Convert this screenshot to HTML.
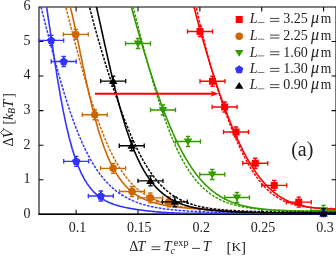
<!DOCTYPE html><html><head><meta charset="utf-8"><title>plot</title><style>html,body{margin:0;padding:0;background:#fff}svg{display:block;will-change:transform}text{font-family:"Liberation Serif",serif;fill:#222}</style></head><body>
<svg width="336" height="256" viewBox="0 0 336 256">
<defs><clipPath id="c"><rect x="38.5" y="7.0" width="298.0" height="207.85"/></clipPath></defs>
<path d="M39.0,7.0H336.0V214.25H39.0ZM76.1,214.25v-4.4M76.1,7.0v4.4M138.0,214.25v-4.4M138.0,7.0v4.4M199.9,214.25v-4.4M199.9,7.0v4.4M261.75,214.25v-4.4M261.75,7.0v4.4M323.6,214.25v-4.4M323.6,7.0v4.4M39.0,179.71h4.4M336.0,179.71h-4.4M39.0,145.17h4.4M336.0,145.17h-4.4M39.0,110.62h4.4M336.0,110.62h-4.4M39.0,76.08h4.4M336.0,76.08h-4.4M39.0,41.54h4.4M336.0,41.54h-4.4" stroke="#000000" stroke-width="1.05" fill="none"/>
<path d="M38.5,214.3H336.0" stroke="#000000" stroke-width="1.4" fill="none"/>
<g clip-path="url(#c)">
<path d="M187.50,31.50H212.50M187.50,29.30V33.70M212.50,29.30V33.70M200.00,26.50V36.50M197.80,26.50H202.20M197.80,36.50H202.20" stroke="#ff0000" stroke-width="1.3" fill="none"/>
<path d="M200.00,81.25H225.00M200.00,79.05V83.45M225.00,79.05V83.45M212.50,76.25V86.25M210.30,76.25H214.70M210.30,86.25H214.70" stroke="#ff0000" stroke-width="1.3" fill="none"/>
<path d="M212.10,107.00H237.10M212.10,104.80V109.20M237.10,104.80V109.20M224.60,102.00V112.00M222.40,102.00H226.80M222.40,112.00H226.80" stroke="#ff0000" stroke-width="1.3" fill="none"/>
<path d="M223.50,132.00H248.50M223.50,129.80V134.20M248.50,129.80V134.20M236.00,127.00V137.00M233.80,127.00H238.20M233.80,137.00H238.20" stroke="#ff0000" stroke-width="1.3" fill="none"/>
<path d="M242.75,163.25H267.75M242.75,161.05V165.45M267.75,161.05V165.45M255.25,158.25V168.25M253.05,158.25H257.45M253.05,168.25H257.45" stroke="#ff0000" stroke-width="1.3" fill="none"/>
<path d="M261.70,185.40H286.70M261.70,183.20V187.60M286.70,183.20V187.60M274.20,180.40V190.40M272.00,180.40H276.40M272.00,190.40H276.40" stroke="#ff0000" stroke-width="1.3" fill="none"/>
<path d="M286.25,202.20H311.25M286.25,200.00V204.40M311.25,200.00V204.40M298.75,197.20V207.20M296.55,197.20H300.95M296.55,207.20H300.95" stroke="#ff0000" stroke-width="1.3" fill="none"/>
</g>
<rect x="196.50" y="28.00" width="7" height="7" fill="#ff0000"/>
<rect x="209.00" y="77.75" width="7" height="7" fill="#ff0000"/>
<rect x="221.10" y="103.50" width="7" height="7" fill="#ff0000"/>
<rect x="232.50" y="128.50" width="7" height="7" fill="#ff0000"/>
<rect x="251.75" y="159.75" width="7" height="7" fill="#ff0000"/>
<rect x="270.70" y="181.90" width="7" height="7" fill="#ff0000"/>
<rect x="295.25" y="198.70" width="7" height="7" fill="#ff0000"/>
<g clip-path="url(#c)">
<path d="M190.4,-6.6 L194.4,8.7 L195.2,11.5 L195.9,14.4 L196.7,17.2 L197.4,20.0 L198.2,22.8 L198.9,25.5 L199.7,28.3 L200.4,31.0 L201.2,33.7 L201.9,36.3 L202.7,39.0 L203.4,41.6 L204.2,44.2 L204.9,46.8 L205.7,49.4 L206.4,52.0 L207.2,54.5 L207.9,57.0 L208.7,59.5 L209.4,62.0 L210.2,64.4 L210.9,66.9 L211.7,69.3 L212.4,71.7 L213.2,74.0 L213.9,76.4 L214.7,78.7 L215.4,81.0 L216.2,83.3 L216.9,85.6 L217.7,87.8 L218.4,90.0 L219.2,92.3 L219.9,94.4 L220.7,96.6 L221.4,98.7 L222.2,100.8 L222.9,102.9 L223.7,105.0 L224.4,107.1 L225.2,109.1 L225.9,111.1 L226.7,113.1 L227.4,115.1 L228.2,117.0 L228.9,118.9 L229.7,120.8 L230.4,122.7 L231.2,124.5 L231.9,126.3 L232.7,128.1 L233.4,129.9 L234.2,131.7 L234.9,133.4 L235.7,135.1 L236.4,136.8 L237.2,138.5 L237.9,140.1 L238.7,141.7 L239.4,143.3 L240.2,144.9 L240.9,146.4 L241.7,147.9 L242.4,149.4 L243.2,150.9 L243.9,152.4 L244.7,153.8 L245.4,155.2 L246.2,156.6 L246.9,157.9 L247.7,159.3 L248.4,160.6 L249.2,161.9 L249.9,163.1 L250.7,164.4 L251.4,165.6 L252.2,166.8 L252.9,167.9 L253.7,169.1 L254.4,170.2 L255.2,171.3 L255.9,172.4 L256.6,173.5 L257.4,174.5 L258.1,175.5 L258.9,176.5 L259.6,177.5 L260.4,178.4 L261.1,179.4 L261.9,180.3 L262.6,181.2 L263.4,182.1 L264.1,182.9 L264.9,183.7 L265.6,184.5 L266.4,185.3 L267.1,186.1 L267.9,186.9 L268.6,187.6 L269.4,188.3 L270.1,189.0 L270.9,189.7 L271.6,190.4 L272.4,191.0 L273.1,191.6 L273.9,192.3 L274.6,192.8 L275.4,193.4 L276.1,194.0 L276.9,194.5 L277.6,195.1 L278.4,195.6 L279.1,196.1 L279.9,196.6 L280.6,197.1 L281.4,197.5 L282.1,198.0 L282.9,198.4 L283.6,198.8 L284.4,199.2 L285.1,199.6 L285.9,200.0 L286.6,200.4 L287.4,200.7 L288.1,201.1 L288.9,201.4 L289.6,201.7 L290.4,202.0 L291.1,202.3 L291.9,202.6 L292.6,202.9 L293.4,203.2 L294.1,203.4 L294.9,203.7 L295.6,203.9 L296.4,204.2 L297.1,204.4 L297.9,204.6 L298.6,204.8 L299.4,205.0 L300.1,205.2 L300.9,205.4 L301.6,205.6 L302.4,205.8 L303.1,205.9 L303.9,206.1 L304.6,206.3 L305.4,206.4 L306.1,206.6 L306.9,206.7 L307.6,206.8 L308.4,207.0 L309.1,207.1 L309.9,207.2 L310.6,207.3 L311.4,207.4 L312.1,207.5 L312.9,207.6 L313.6,207.7 L314.4,207.8 L315.1,207.9 L315.9,208.0 L316.6,208.0 L317.4,208.1 L318.1,208.2 L318.9,208.3 L319.6,208.3 L320.4,208.4 L321.1,208.4 L321.9,208.5 L322.6,208.6 L323.4,208.6 L324.1,208.7 L324.9,208.7 L325.6,208.7 L326.4,208.8 L327.1,208.8 L327.9,208.9 L328.6,208.9 L329.4,208.9 L330.1,209.0 L330.9,209.0 L331.6,209.0 L332.4,209.1 L333.1,209.1 L333.9,209.1 L334.4,209.1 L336.9,209.2" stroke="#ff0000" stroke-width="1.6" fill="none"/>
<path d="M193.0,-7.5 L197.0,10.8 L197.8,14.2 L198.5,17.6 L199.2,20.9 L200.0,24.1 L200.8,27.4 L201.5,30.5 L202.2,33.6 L203.0,36.7 L203.8,39.7 L204.5,42.7 L205.2,45.7 L206.0,48.6 L206.8,51.4 L207.5,54.3 L208.2,57.0 L209.0,59.8 L209.8,62.5 L210.5,65.2 L211.2,67.8 L212.0,70.4 L212.8,73.0 L213.5,75.5 L214.2,78.1 L215.0,80.5 L215.8,83.0 L216.5,85.4 L217.2,87.8 L218.0,90.2 L218.8,92.5 L219.5,94.8 L220.2,97.1 L221.0,99.4 L221.8,101.6 L222.5,103.8 L223.2,106.0 L224.0,108.1 L224.8,110.2 L225.5,112.3 L226.2,114.4 L227.0,116.4 L227.8,118.5 L228.5,120.5 L229.2,122.4 L230.0,124.4 L230.8,126.3 L231.5,128.2 L232.2,130.1 L233.0,131.9 L233.8,133.7 L234.5,135.5 L235.2,137.3 L236.0,139.0 L236.8,140.7 L237.5,142.4 L238.2,144.1 L239.0,145.7 L239.8,147.4 L240.5,149.0 L241.2,150.5 L242.0,152.1 L242.8,153.6 L243.5,155.1 L244.2,156.5 L245.0,158.0 L245.8,159.4 L246.5,160.8 L247.2,162.1 L248.0,163.5 L248.8,164.8 L249.5,166.1 L250.2,167.4 L251.0,168.6 L251.8,169.8 L252.5,171.0 L253.2,172.2 L254.0,173.3 L254.8,174.4 L255.5,175.5 L256.2,176.6 L257.0,177.6 L257.8,178.6 L258.5,179.6 L259.2,180.6 L260.0,181.5 L260.8,182.4 L261.5,183.3 L262.2,184.2 L263.0,185.1 L263.8,185.9 L264.5,186.7 L265.2,187.5 L266.0,188.3 L266.8,189.0 L267.5,189.7 L268.2,190.4 L269.0,191.1 L269.8,191.8 L270.5,192.4 L271.2,193.1 L272.0,193.7 L272.8,194.2 L273.5,194.8 L274.2,195.4 L275.0,195.9 L275.8,196.4 L276.5,196.9 L277.2,197.4 L278.0,197.9 L278.8,198.3 L279.5,198.7 L280.2,199.2 L281.0,199.6 L281.8,200.0 L282.5,200.3 L283.2,200.7 L284.0,201.0 L284.8,201.4 L285.5,201.7 L286.2,202.0 L287.0,202.3 L287.8,202.6 L288.5,202.9 L289.2,203.1 L290.0,203.4 L290.8,203.7 L291.5,203.9 L292.2,204.1 L293.0,204.3 L293.8,204.5 L294.5,204.7 L295.2,204.9 L296.0,205.1 L296.8,205.3 L297.5,205.5 L298.2,205.6 L299.0,205.8 L299.8,205.9 L300.5,206.1 L301.2,206.2 L302.0,206.3 L302.8,206.5 L303.5,206.6 L304.2,206.7 L305.0,206.8 L305.8,206.9 L306.5,207.0 L307.2,207.1 L308.0,207.2 L308.8,207.3 L309.5,207.4 L310.2,207.4 L311.0,207.5 L311.8,207.6 L312.5,207.7 L313.2,207.7 L314.0,207.8 L314.8,207.8 L315.5,207.9 L316.2,208.0 L317.0,208.0 L317.8,208.1 L318.5,208.1 L319.2,208.2 L320.0,208.2 L320.8,208.2 L321.5,208.3 L322.2,208.3 L323.0,208.3 L323.8,208.4 L324.5,208.4 L325.2,208.4 L326.0,208.5 L326.8,208.5 L327.5,208.5 L328.2,208.5 L329.0,208.6 L329.8,208.6 L330.5,208.6 L331.2,208.6 L332.0,208.6 L332.8,208.7 L333.5,208.7 L334.2,208.7 L335.0,208.7 L335.8,208.7 L336.5,208.7 L337.0,208.7" stroke="#ff0000" stroke-width="1.5" fill="none" stroke-dasharray="2.7 1.3"/>
</g>
<g clip-path="url(#c)">
<path d="M63.30,34.40H88.30M63.30,32.20V36.60M88.30,32.20V36.60M75.80,29.40V39.40M73.60,29.40H78.00M73.60,39.40H78.00" stroke="#cc6600" stroke-width="1.3" fill="none"/>
<path d="M82.25,114.75H107.25M82.25,112.55V116.95M107.25,112.55V116.95M94.75,109.75V119.75M92.55,109.75H96.95M92.55,119.75H96.95" stroke="#cc6600" stroke-width="1.3" fill="none"/>
<path d="M100.60,168.30H125.60M100.60,166.10V170.50M125.60,166.10V170.50M113.10,163.30V173.30M110.90,163.30H115.30M110.90,173.30H115.30" stroke="#cc6600" stroke-width="1.3" fill="none"/>
<path d="M119.50,191.50H144.50M119.50,189.30V193.70M144.50,189.30V193.70M132.00,186.50V196.50M129.80,186.50H134.20M129.80,196.50H134.20" stroke="#cc6600" stroke-width="1.3" fill="none"/>
<path d="M137.80,197.80H162.80M137.80,195.60V200.00M162.80,195.60V200.00M150.30,192.80V202.80M148.10,192.80H152.50M148.10,202.80H152.50" stroke="#cc6600" stroke-width="1.3" fill="none"/>
<path d="M156.30,201.80H181.30M156.30,199.60V204.00M181.30,199.60V204.00M168.80,196.80V206.80M166.60,196.80H171.00M166.60,206.80H171.00" stroke="#cc6600" stroke-width="1.3" fill="none"/>
</g>
<circle cx="75.80" cy="34.40" r="3.75" fill="#cc6600"/>
<circle cx="94.75" cy="114.75" r="3.75" fill="#cc6600"/>
<circle cx="113.10" cy="168.30" r="3.75" fill="#cc6600"/>
<circle cx="132.00" cy="191.50" r="3.75" fill="#cc6600"/>
<circle cx="150.30" cy="197.80" r="3.75" fill="#cc6600"/>
<circle cx="168.80" cy="201.80" r="3.75" fill="#cc6600"/>
<g clip-path="url(#c)">
<path d="M66.5,-9.3 L70.5,7.4 L71.2,10.6 L72.0,13.8 L72.8,17.1 L73.5,20.5 L74.2,23.9 L75.0,27.4 L75.8,30.9 L76.5,34.5 L77.2,38.1 L78.0,41.7 L78.8,45.4 L79.5,49.0 L80.2,52.7 L81.0,56.3 L81.8,60.0 L82.5,63.6 L83.2,67.2 L84.0,70.7 L84.8,74.3 L85.5,77.8 L86.2,81.3 L87.0,84.7 L87.8,88.1 L88.5,91.4 L89.2,94.7 L90.0,97.9 L90.8,101.1 L91.5,104.2 L92.2,107.2 L93.0,110.2 L93.8,113.2 L94.5,116.0 L95.2,118.9 L96.0,121.6 L96.8,124.3 L97.5,126.9 L98.2,129.5 L99.0,132.0 L99.8,134.4 L100.5,136.8 L101.2,139.1 L102.0,141.3 L102.8,143.5 L103.5,145.6 L104.2,147.7 L105.0,149.7 L105.8,151.6 L106.5,153.5 L107.2,155.4 L108.0,157.1 L108.8,158.9 L109.5,160.5 L110.2,162.1 L111.0,163.7 L111.8,165.2 L112.5,166.7 L113.2,168.1 L114.0,169.5 L114.8,170.8 L115.5,172.1 L116.2,173.4 L117.0,174.6 L117.8,175.7 L118.5,176.9 L119.2,178.0 L120.0,179.0 L120.8,180.0 L121.5,181.0 L122.2,182.0 L123.0,182.9 L123.8,183.8 L124.5,184.6 L125.2,185.5 L126.0,186.3 L126.8,187.0 L127.5,187.8 L128.2,188.5 L129.0,189.2 L129.8,189.9 L130.5,190.5 L131.2,191.1 L132.0,191.7 L132.8,192.3 L133.5,192.9 L134.2,193.4 L135.0,194.0 L135.8,194.5 L136.5,195.0 L137.2,195.4 L138.0,195.9 L138.8,196.3 L139.5,196.8 L140.2,197.2 L141.0,197.6 L141.8,197.9 L142.5,198.3 L143.2,198.7 L144.0,199.0 L144.8,199.4 L145.5,199.7 L146.2,200.0 L147.0,200.3 L147.8,200.6 L148.5,200.9 L149.2,201.1 L150.0,201.4 L150.8,201.7 L151.5,201.9 L152.2,202.2 L153.0,202.4 L153.8,202.6 L154.5,202.8 L155.2,203.0 L156.0,203.2 L156.8,203.4 L157.5,203.6 L158.2,203.8 L159.0,204.0 L159.8,204.2 L160.5,204.3 L161.2,204.5 L162.0,204.6 L162.8,204.8 L163.5,204.9 L164.2,205.1 L165.0,205.2 L165.8,205.4 L166.5,205.5 L167.2,205.6 L168.0,205.7 L168.8,205.9 L169.5,206.0 L170.2,206.1 L171.0,206.2 L171.8,206.3 L172.5,206.4 L173.2,206.5 L174.0,206.6 L174.8,206.7 L175.5,206.8 L176.2,206.9 L177.0,207.0 L177.8,207.1 L178.5,207.2 L179.2,207.3 L180.0,207.3 L180.8,207.4 L181.5,207.5 L182.2,207.6 L183.0,207.7 L183.8,207.7 L184.5,207.8 L185.2,207.9 L186.0,207.9 L186.8,208.0 L187.5,208.1 L188.2,208.2 L189.0,208.2 L189.8,208.3 L190.5,208.4 L191.2,208.4 L192.0,208.5 L192.8,208.5 L193.5,208.6 L194.2,208.7 L195.0,208.7 L195.8,208.8 L196.5,208.8 L197.2,208.9 L198.0,209.0 L198.8,209.0 L199.5,209.1 L200.2,209.1 L201.0,209.2 L201.8,209.3 L202.5,209.3 L203.2,209.4 L204.0,209.4 L204.8,209.5 L205.5,209.6 L206.2,209.6 L207.0,209.7 L207.8,209.7 L208.5,209.8 L209.2,209.8 L210.0,209.9 L210.5,209.9 L213.0,210.1 L215.5,210.3 L218.0,210.5 L220.5,210.7 L223.0,210.9 L225.5,211.1 L228.0,211.3 L230.5,211.5 L233.0,211.7 L235.5,211.9 L238.0,212.1 L240.5,212.2 L243.0,212.4 L245.5,212.5 L248.0,212.7 L250.5,212.8 L253.0,212.9 L255.5,213.0 L258.0,213.1 L260.5,213.1 L263.0,213.2 L265.5,213.2 L268.0,213.2 L270.5,213.3 L273.0,213.3 L275.5,213.3 L278.0,213.3 L280.5,213.3 L283.0,213.3 L285.5,213.3 L288.0,213.3 L290.5,213.3 L293.0,213.3 L295.5,213.3 L298.0,213.3 L300.5,213.3 L303.0,213.3 L305.5,213.3 L308.0,213.3 L310.5,213.3 L313.0,213.3 L315.5,213.3 L318.0,213.3 L320.5,213.3 L323.0,213.3 L325.5,213.3 L328.0,213.3 L330.5,213.3 L333.0,213.3 L335.5,213.3" stroke="#cc6600" stroke-width="1.6" fill="none"/>
<path d="M62.0,-7.8 L66.0,7.8 L66.8,10.8 L67.5,13.7 L68.2,16.6 L69.0,19.6 L69.8,22.5 L70.5,25.4 L71.2,28.3 L72.0,31.1 L72.8,34.0 L73.5,36.9 L74.2,39.7 L75.0,42.6 L75.8,45.4 L76.5,48.2 L77.2,51.0 L78.0,53.8 L78.8,56.6 L79.5,59.4 L80.2,62.1 L81.0,64.9 L81.8,67.6 L82.5,70.3 L83.2,72.9 L84.0,75.6 L84.8,78.2 L85.5,80.8 L86.2,83.4 L87.0,86.0 L87.8,88.5 L88.5,91.0 L89.2,93.5 L90.0,95.9 L90.8,98.4 L91.5,100.8 L92.2,103.1 L93.0,105.5 L93.8,107.8 L94.5,110.1 L95.2,112.3 L96.0,114.6 L96.8,116.8 L97.5,118.9 L98.2,121.1 L99.0,123.2 L99.8,125.2 L100.5,127.2 L101.2,129.2 L102.0,131.2 L102.8,133.1 L103.5,135.0 L104.2,136.9 L105.0,138.7 L105.8,140.5 L106.5,142.3 L107.2,144.0 L108.0,145.7 L108.8,147.4 L109.5,149.0 L110.2,150.6 L111.0,152.2 L111.8,153.7 L112.5,155.2 L113.2,156.7 L114.0,158.1 L114.8,159.5 L115.5,160.9 L116.2,162.2 L117.0,163.5 L117.8,164.8 L118.5,166.1 L119.2,167.3 L120.0,168.5 L120.8,169.6 L121.5,170.8 L122.2,171.9 L123.0,173.0 L123.8,174.0 L124.5,175.0 L125.2,176.0 L126.0,177.0 L126.8,178.0 L127.5,178.9 L128.2,179.8 L129.0,180.7 L129.8,181.5 L130.5,182.4 L131.2,183.2 L132.0,183.9 L132.8,184.7 L133.5,185.5 L134.2,186.2 L135.0,186.9 L135.8,187.6 L136.5,188.2 L137.2,188.9 L138.0,189.5 L138.8,190.1 L139.5,190.7 L140.2,191.3 L141.0,191.9 L141.8,192.4 L142.5,192.9 L143.2,193.4 L144.0,193.9 L144.8,194.4 L145.5,194.9 L146.2,195.3 L147.0,195.8 L147.8,196.2 L148.5,196.6 L149.2,197.0 L150.0,197.4 L150.8,197.8 L151.5,198.2 L152.2,198.6 L153.0,198.9 L153.8,199.2 L154.5,199.6 L155.2,199.9 L156.0,200.2 L156.8,200.5 L157.5,200.8 L158.2,201.1 L159.0,201.3 L159.8,201.6 L160.5,201.9 L161.2,202.1 L162.0,202.4 L162.8,202.6 L163.5,202.8 L164.2,203.1 L165.0,203.3 L165.8,203.5 L166.5,203.7 L167.2,203.9 L168.0,204.1 L168.8,204.3 L169.5,204.5 L170.2,204.6 L171.0,204.8 L171.8,205.0 L172.5,205.1 L173.2,205.3 L174.0,205.4 L174.8,205.6 L175.5,205.7 L176.2,205.9 L177.0,206.0 L177.8,206.2 L178.5,206.3 L179.2,206.4 L180.0,206.5 L180.8,206.7 L181.5,206.8 L182.2,206.9 L183.0,207.0 L183.8,207.1 L184.5,207.2 L185.2,207.3 L186.0,207.4 L186.8,207.5 L187.5,207.6 L188.2,207.7 L189.0,207.8 L189.8,207.9 L190.5,208.0 L191.2,208.1 L192.0,208.1 L192.8,208.2 L193.5,208.3 L194.2,208.4 L195.0,208.5 L195.8,208.5 L196.5,208.6 L197.2,208.7 L198.0,208.8 L198.8,208.8 L199.5,208.9 L200.2,209.0 L201.0,209.0 L201.8,209.1 L202.5,209.2 L203.2,209.2 L204.0,209.3 L204.8,209.4 L205.5,209.4 L206.0,209.5 L208.5,209.7 L211.0,209.9 L213.5,210.1 L216.0,210.3 L218.5,210.4 L221.0,210.6 L223.5,210.8 L226.0,211.0 L228.5,211.2 L231.0,211.4 L233.5,211.5 L236.0,211.7 L238.5,211.9 L241.0,212.0 L243.5,212.2 L246.0,212.3 L248.5,212.4 L251.0,212.6 L253.5,212.7 L256.0,212.8 L258.5,212.8 L261.0,212.9 L263.5,213.0 L266.0,213.0 L268.5,213.1 L271.0,213.1 L273.5,213.1 L276.0,213.1 L278.5,213.1 L281.0,213.1 L283.5,213.1 L286.0,213.1 L288.5,213.1 L291.0,213.1 L293.5,213.1 L296.0,213.1 L298.5,213.1 L301.0,213.1 L303.5,213.1 L306.0,213.1 L308.5,213.1 L311.0,213.1 L313.5,213.1 L316.0,213.1 L318.5,213.1 L321.0,213.1 L323.5,213.1 L326.0,213.1 L328.5,213.1 L331.0,213.1 L333.5,213.1 L336.0,213.1" stroke="#cc6600" stroke-width="1.5" fill="none" stroke-dasharray="2.7 1.3"/>
</g>
<g clip-path="url(#c)">
<path d="M125.50,43.50H150.50M125.50,41.30V45.70M150.50,41.30V45.70M138.00,38.50V48.50M135.80,38.50H140.20M135.80,48.50H140.20" stroke="#339900" stroke-width="1.3" fill="none"/>
<path d="M150.50,110.00H175.50M150.50,107.80V112.20M175.50,107.80V112.20M163.00,105.00V115.00M160.80,105.00H165.20M160.80,115.00H165.20" stroke="#339900" stroke-width="1.3" fill="none"/>
<path d="M175.50,141.50H200.50M175.50,139.30V143.70M200.50,139.30V143.70M188.00,136.50V146.50M185.80,136.50H190.20M185.80,146.50H190.20" stroke="#339900" stroke-width="1.3" fill="none"/>
<path d="M199.75,174.50H224.75M199.75,172.30V176.70M224.75,172.30V176.70M212.25,169.50V179.50M210.05,169.50H214.45M210.05,179.50H214.45" stroke="#339900" stroke-width="1.3" fill="none"/>
<path d="M224.50,197.50H249.50M224.50,195.30V199.70M249.50,195.30V199.70M237.00,192.50V202.50M234.80,192.50H239.20M234.80,202.50H239.20" stroke="#339900" stroke-width="1.3" fill="none"/>
<path d="M311.00,210.30H336.00M311.00,208.10V212.50M336.00,208.10V212.50M323.50,205.30V215.30M321.30,205.30H325.70M321.30,215.30H325.70" stroke="#339900" stroke-width="1.3" fill="none"/>
</g>
<polygon points="133.70,40.50 142.30,40.50 138.00,47.40" fill="#339900"/>
<polygon points="158.70,107.00 167.30,107.00 163.00,113.90" fill="#339900"/>
<polygon points="183.70,138.50 192.30,138.50 188.00,145.40" fill="#339900"/>
<polygon points="207.95,171.50 216.55,171.50 212.25,178.40" fill="#339900"/>
<polygon points="232.70,194.50 241.30,194.50 237.00,201.40" fill="#339900"/>
<polygon points="319.20,207.30 327.80,207.30 323.50,214.20" fill="#339900"/>
<g clip-path="url(#c)">
<path d="M127.6,-6.7 L131.6,7.8 L132.3,10.5 L133.1,13.2 L133.8,15.9 L134.6,18.5 L135.3,21.2 L136.1,23.9 L136.8,26.5 L137.6,29.1 L138.3,31.8 L139.1,34.4 L139.8,37.0 L140.6,39.5 L141.3,42.1 L142.1,44.6 L142.8,47.2 L143.6,49.7 L144.3,52.2 L145.1,54.7 L145.8,57.2 L146.6,59.6 L147.3,62.1 L148.1,64.5 L148.8,66.9 L149.6,69.3 L150.3,71.6 L151.1,74.0 L151.8,76.3 L152.6,78.6 L153.3,80.9 L154.1,83.2 L154.8,85.5 L155.6,87.7 L156.3,89.9 L157.1,92.1 L157.8,94.2 L158.6,96.4 L159.3,98.5 L160.1,100.6 L160.8,102.7 L161.6,104.8 L162.3,106.8 L163.1,108.8 L163.8,110.8 L164.6,112.8 L165.3,114.7 L166.1,116.6 L166.8,118.5 L167.6,120.4 L168.3,122.2 L169.1,124.1 L169.8,125.9 L170.6,127.6 L171.3,129.4 L172.1,131.1 L172.8,132.8 L173.6,134.5 L174.3,136.2 L175.1,137.8 L175.8,139.4 L176.6,141.0 L177.3,142.5 L178.1,144.1 L178.8,145.6 L179.6,147.1 L180.3,148.5 L181.1,150.0 L181.8,151.4 L182.6,152.8 L183.3,154.2 L184.1,155.5 L184.8,156.8 L185.6,158.1 L186.3,159.4 L187.1,160.6 L187.8,161.9 L188.6,163.1 L189.3,164.3 L190.1,165.4 L190.8,166.6 L191.6,167.7 L192.3,168.8 L193.1,169.9 L193.8,170.9 L194.6,171.9 L195.3,173.0 L196.1,173.9 L196.8,174.9 L197.6,175.9 L198.3,176.8 L199.1,177.7 L199.8,178.6 L200.6,179.5 L201.3,180.3 L202.1,181.2 L202.8,182.0 L203.6,182.8 L204.3,183.6 L205.1,184.3 L205.8,185.1 L206.6,185.8 L207.3,186.5 L208.1,187.2 L208.8,187.9 L209.6,188.5 L210.3,189.2 L211.1,189.8 L211.8,190.4 L212.6,191.0 L213.3,191.6 L214.1,192.2 L214.8,192.7 L215.6,193.3 L216.3,193.8 L217.1,194.3 L217.8,194.8 L218.6,195.3 L219.3,195.8 L220.1,196.3 L220.8,196.7 L221.6,197.1 L222.3,197.6 L223.1,198.0 L223.8,198.4 L224.6,198.8 L225.3,199.2 L226.1,199.5 L226.8,199.9 L227.6,200.3 L228.3,200.6 L229.1,200.9 L229.8,201.3 L230.6,201.6 L231.3,201.9 L232.1,202.2 L232.8,202.5 L233.6,202.8 L234.3,203.0 L235.1,203.3 L235.8,203.6 L236.6,203.8 L237.3,204.0 L238.1,204.3 L238.8,204.5 L239.6,204.7 L240.3,204.9 L241.1,205.2 L241.8,205.4 L242.6,205.6 L243.3,205.7 L244.1,205.9 L244.8,206.1 L245.6,206.3 L246.3,206.4 L247.1,206.6 L247.8,206.8 L248.6,206.9 L249.3,207.1 L250.1,207.2 L250.8,207.4 L251.6,207.5 L252.3,207.6 L253.1,207.7 L253.8,207.9 L254.6,208.0 L255.3,208.1 L256.1,208.2 L256.9,208.3 L257.6,208.4 L258.4,208.5 L259.1,208.6 L259.9,208.7 L260.6,208.8 L261.4,208.9 L262.1,209.0 L262.9,209.1 L263.6,209.2 L264.4,209.2 L265.1,209.3 L265.9,209.4 L266.6,209.5 L267.4,209.5 L268.1,209.6 L268.9,209.7 L269.6,209.7 L270.4,209.8 L271.1,209.8 L271.6,209.9 L274.1,210.0 L276.6,210.2 L279.1,210.3 L281.6,210.5 L284.1,210.6 L286.6,210.7 L289.1,210.8 L291.6,210.9 L294.1,210.9 L296.6,211.0 L299.1,211.1 L301.6,211.1 L304.1,211.2 L306.6,211.2 L309.1,211.2 L311.6,211.3 L314.1,211.3 L316.6,211.3 L319.1,211.3 L321.6,211.4 L324.1,211.4 L326.6,211.4 L329.1,211.4 L331.6,211.4 L334.1,211.4 L336.6,211.4" stroke="#339900" stroke-width="1.6" fill="none"/>
<path d="M130.1,-5.0 L134.1,10.8 L134.8,13.8 L135.6,16.8 L136.3,19.7 L137.1,22.7 L137.8,25.6 L138.6,28.5 L139.3,31.4 L140.1,34.3 L140.8,37.2 L141.6,40.1 L142.3,43.0 L143.1,45.8 L143.8,48.7 L144.6,51.5 L145.3,54.3 L146.1,57.1 L146.8,59.9 L147.6,62.6 L148.3,65.3 L149.1,68.0 L149.8,70.7 L150.6,73.4 L151.3,76.0 L152.1,78.6 L152.8,81.2 L153.6,83.8 L154.3,86.3 L155.1,88.8 L155.8,91.3 L156.6,93.8 L157.3,96.2 L158.1,98.6 L158.8,101.0 L159.6,103.3 L160.3,105.6 L161.1,107.9 L161.8,110.2 L162.6,112.4 L163.3,114.6 L164.1,116.8 L164.8,118.9 L165.6,121.0 L166.3,123.1 L167.1,125.1 L167.8,127.1 L168.6,129.1 L169.3,131.0 L170.1,132.9 L170.8,134.8 L171.6,136.7 L172.3,138.5 L173.1,140.2 L173.8,142.0 L174.6,143.7 L175.3,145.4 L176.1,147.1 L176.8,148.7 L177.6,150.3 L178.3,151.8 L179.1,153.4 L179.8,154.9 L180.6,156.3 L181.3,157.8 L182.1,159.2 L182.8,160.6 L183.6,161.9 L184.3,163.2 L185.1,164.5 L185.8,165.8 L186.6,167.0 L187.3,168.2 L188.1,169.4 L188.8,170.6 L189.6,171.7 L190.3,172.8 L191.1,173.9 L191.8,174.9 L192.6,175.9 L193.3,176.9 L194.1,177.9 L194.8,178.9 L195.6,179.8 L196.3,180.7 L197.1,181.6 L197.8,182.4 L198.6,183.3 L199.3,184.1 L200.1,184.9 L200.8,185.7 L201.6,186.4 L202.3,187.1 L203.1,187.9 L203.8,188.5 L204.6,189.2 L205.3,189.9 L206.1,190.5 L206.8,191.1 L207.6,191.8 L208.3,192.3 L209.1,192.9 L209.8,193.5 L210.6,194.0 L211.3,194.5 L212.1,195.0 L212.8,195.5 L213.6,196.0 L214.3,196.5 L215.1,196.9 L215.8,197.4 L216.6,197.8 L217.3,198.2 L218.1,198.6 L218.8,199.0 L219.6,199.4 L220.3,199.8 L221.1,200.1 L221.8,200.5 L222.6,200.8 L223.3,201.1 L224.1,201.5 L224.8,201.8 L225.6,202.1 L226.3,202.3 L227.1,202.6 L227.8,202.9 L228.6,203.2 L229.3,203.4 L230.1,203.7 L230.8,203.9 L231.6,204.1 L232.3,204.4 L233.1,204.6 L233.8,204.8 L234.6,205.0 L235.3,205.2 L236.1,205.4 L236.8,205.6 L237.6,205.8 L238.3,205.9 L239.1,206.1 L239.8,206.3 L240.6,206.4 L241.3,206.6 L242.1,206.7 L242.8,206.9 L243.6,207.0 L244.3,207.1 L245.1,207.3 L245.8,207.4 L246.6,207.5 L247.3,207.6 L248.1,207.8 L248.8,207.9 L249.6,208.0 L250.3,208.1 L251.1,208.2 L251.8,208.3 L252.6,208.4 L253.3,208.5 L254.1,208.6 L254.8,208.6 L255.6,208.7 L256.4,208.8 L257.1,208.9 L257.9,209.0 L258.6,209.0 L259.4,209.1 L260.1,209.2 L260.9,209.2 L261.6,209.3 L262.4,209.4 L263.1,209.4 L263.9,209.5 L264.6,209.6 L265.4,209.6 L266.1,209.7 L266.9,209.7 L267.6,209.8 L268.4,209.8 L269.1,209.9 L269.9,209.9 L270.6,210.0 L271.4,210.0 L272.1,210.0 L272.9,210.1 L273.6,210.1 L274.1,210.1 L276.6,210.3 L279.1,210.4 L281.6,210.5 L284.1,210.6 L286.6,210.6 L289.1,210.7 L291.6,210.8 L294.1,210.8 L296.6,210.9 L299.1,211.0 L301.6,211.0 L304.1,211.0 L306.6,211.1 L309.1,211.1 L311.6,211.1 L314.1,211.2 L316.6,211.2 L319.1,211.2 L321.6,211.3 L324.1,211.3 L326.6,211.3 L329.1,211.3 L331.6,211.3 L334.1,211.4 L336.6,211.4" stroke="#339900" stroke-width="1.5" fill="none" stroke-dasharray="2.7 1.3"/>
</g>
<g clip-path="url(#c)">
<path d="M38.70,40.40H63.70M38.70,38.20V42.60M63.70,38.20V42.60M51.20,35.40V45.40M49.00,35.40H53.40M49.00,45.40H53.40" stroke="#3333ff" stroke-width="1.3" fill="none"/>
<path d="M51.20,61.50H76.20M51.20,59.30V63.70M76.20,59.30V63.70M63.70,56.50V66.50M61.50,56.50H65.90M61.50,66.50H65.90" stroke="#3333ff" stroke-width="1.3" fill="none"/>
<path d="M63.70,161.30H88.70M63.70,159.10V163.50M88.70,159.10V163.50M76.20,156.30V166.30M74.00,156.30H78.40M74.00,166.30H78.40" stroke="#3333ff" stroke-width="1.3" fill="none"/>
<path d="M88.30,196.00H113.30M88.30,193.80V198.20M113.30,193.80V198.20M100.80,191.00V201.00M98.60,191.00H103.00M98.60,201.00H103.00" stroke="#3333ff" stroke-width="1.3" fill="none"/>
<path d="M311.00,213.60H336.00M311.00,211.40V215.80M336.00,211.40V215.80M323.50,208.60V218.60M321.30,208.60H325.70M321.30,218.60H325.70" stroke="#3333ff" stroke-width="1.3" fill="none"/>
</g>
<polygon points="51.20,36.10 55.38,39.14 53.79,44.06 48.61,44.06 47.02,39.14" fill="#3333ff"/>
<polygon points="63.70,57.20 67.88,60.24 66.29,65.16 61.11,65.16 59.52,60.24" fill="#3333ff"/>
<polygon points="76.20,157.00 80.38,160.04 78.79,164.96 73.61,164.96 72.02,160.04" fill="#3333ff"/>
<polygon points="100.80,191.70 104.98,194.74 103.39,199.66 98.21,199.66 96.62,194.74" fill="#3333ff"/>
<polygon points="323.50,209.30 327.68,212.34 326.09,217.26 320.91,217.26 319.32,212.34" fill="#3333ff"/>
<g clip-path="url(#c)">
<path d="M42.8,-18.3 L46.8,8.0 L47.5,12.9 L48.2,17.9 L49.0,23.0 L49.8,28.0 L50.5,33.1 L51.2,38.1 L52.0,43.2 L52.8,48.2 L53.5,53.2 L54.2,58.1 L55.0,63.0 L55.8,67.8 L56.5,72.5 L57.2,77.1 L58.0,81.7 L58.8,86.2 L59.5,90.5 L60.2,94.8 L61.0,99.0 L61.8,103.1 L62.5,107.0 L63.2,110.9 L64.0,114.6 L64.8,118.3 L65.5,121.8 L66.2,125.2 L67.0,128.5 L67.8,131.7 L68.5,134.8 L69.2,137.8 L70.0,140.7 L70.8,143.5 L71.5,146.2 L72.2,148.8 L73.0,151.3 L73.8,153.7 L74.5,156.0 L75.2,158.2 L76.0,160.3 L76.8,162.4 L77.5,164.3 L78.2,166.2 L79.0,168.0 L79.8,169.8 L80.5,171.5 L81.2,173.1 L82.0,174.6 L82.8,176.1 L83.5,177.5 L84.2,178.9 L85.0,180.2 L85.8,181.4 L86.5,182.6 L87.2,183.7 L88.0,184.8 L88.8,185.9 L89.5,186.9 L90.2,187.9 L91.0,188.8 L91.8,189.7 L92.5,190.5 L93.2,191.3 L94.0,192.1 L94.8,192.8 L95.5,193.6 L96.2,194.2 L97.0,194.9 L97.8,195.5 L98.5,196.1 L99.2,196.7 L100.0,197.3 L100.8,197.8 L101.5,198.3 L102.2,198.8 L103.0,199.3 L103.8,199.7 L104.5,200.1 L105.2,200.6 L106.0,201.0 L106.8,201.3 L107.5,201.7 L108.2,202.1 L109.0,202.4 L109.8,202.7 L110.5,203.1 L111.2,203.4 L112.0,203.6 L112.8,203.9 L113.5,204.2 L114.2,204.5 L115.0,204.7 L115.8,205.0 L116.5,205.2 L117.2,205.4 L118.0,205.6 L118.8,205.9 L119.5,206.1 L120.2,206.3 L121.0,206.5 L121.8,206.6 L122.5,206.8 L123.2,207.0 L124.0,207.2 L124.8,207.3 L125.5,207.5 L126.2,207.7 L127.0,207.8 L127.8,208.0 L128.5,208.1 L129.2,208.3 L130.0,208.4 L130.8,208.5 L131.5,208.7 L132.2,208.8 L133.0,208.9 L133.8,209.0 L134.5,209.1 L135.2,209.3 L136.0,209.4 L136.8,209.5 L137.5,209.6 L138.2,209.7 L139.0,209.8 L139.8,209.9 L140.5,210.0 L141.2,210.1 L142.0,210.2 L142.8,210.3 L143.5,210.4 L144.2,210.5 L145.0,210.6 L145.8,210.7 L146.5,210.8 L147.2,210.9 L148.0,210.9 L148.8,211.0 L149.5,211.1 L150.2,211.2 L151.0,211.3 L151.8,211.3 L152.5,211.4 L153.2,211.5 L154.0,211.6 L154.8,211.6 L155.5,211.7 L156.2,211.8 L157.0,211.9 L157.8,211.9 L158.5,212.0 L159.2,212.1 L160.0,212.1 L160.8,212.2 L161.5,212.2 L162.2,212.3 L163.0,212.3 L163.8,212.4 L164.5,212.4 L165.2,212.5 L166.0,212.5 L166.8,212.6 L167.5,212.6 L168.2,212.7 L169.0,212.7 L169.8,212.8 L170.5,212.8 L171.2,212.8 L172.0,212.9 L172.8,212.9 L173.5,212.9 L174.2,213.0 L175.0,213.0 L175.8,213.0 L176.5,213.1 L177.2,213.1 L178.0,213.1 L178.8,213.1 L179.5,213.1 L180.2,213.2 L181.0,213.2 L181.8,213.2 L182.5,213.2 L183.2,213.2 L184.0,213.2 L184.8,213.2 L185.5,213.3 L186.2,213.3 L186.8,213.3 L189.2,213.3 L191.8,213.3 L194.2,213.3 L196.8,213.3 L199.2,213.3 L201.8,213.3 L204.2,213.3 L206.8,213.4 L209.2,213.4 L211.8,213.4 L214.2,213.4 L216.8,213.4 L219.2,213.4 L221.8,213.4 L224.2,213.4 L226.8,213.4 L229.2,213.4 L231.8,213.4 L234.2,213.4 L236.8,213.4 L239.2,213.4 L241.8,213.4 L244.2,213.4 L246.8,213.4 L249.2,213.4 L251.8,213.4 L254.2,213.4 L256.8,213.4 L259.2,213.4 L261.8,213.4 L264.2,213.4 L266.8,213.4 L269.2,213.4 L271.8,213.4 L274.2,213.4 L276.8,213.4 L279.2,213.4 L281.8,213.4 L284.2,213.4 L286.8,213.4 L289.2,213.4 L291.8,213.4 L294.2,213.4 L296.8,213.4 L299.2,213.4 L301.8,213.4 L304.2,213.4 L306.8,213.4 L309.2,213.4 L311.8,213.4 L314.2,213.4 L316.8,213.4 L319.2,213.4 L321.8,213.4 L324.2,213.4 L326.8,213.4 L329.2,213.4 L331.8,213.4 L334.2,213.4 L336.8,213.4" stroke="#3333ff" stroke-width="1.6" fill="none"/>
<path d="M37.0,-8.5 L41.0,7.0 L41.8,9.9 L42.5,12.8 L43.2,15.7 L44.0,18.6 L44.8,21.5 L45.5,24.4 L46.2,27.4 L47.0,30.3 L47.8,33.2 L48.5,36.1 L49.2,39.0 L50.0,41.9 L50.8,44.8 L51.5,47.6 L52.2,50.5 L53.0,53.3 L53.8,56.2 L54.5,59.0 L55.2,61.7 L56.0,64.5 L56.8,67.2 L57.5,70.0 L58.2,72.6 L59.0,75.3 L59.8,78.0 L60.5,80.6 L61.2,83.2 L62.0,85.7 L62.8,88.3 L63.5,90.8 L64.2,93.2 L65.0,95.7 L65.8,98.1 L66.5,100.5 L67.2,102.8 L68.0,105.2 L68.8,107.5 L69.5,109.7 L70.2,111.9 L71.0,114.1 L71.8,116.3 L72.5,118.4 L73.2,120.5 L74.0,122.5 L74.8,124.6 L75.5,126.5 L76.2,128.5 L77.0,130.4 L77.8,132.3 L78.5,134.2 L79.2,136.0 L80.0,137.8 L80.8,139.5 L81.5,141.2 L82.2,142.9 L83.0,144.6 L83.8,146.2 L84.5,147.8 L85.2,149.4 L86.0,150.9 L86.8,152.4 L87.5,153.9 L88.2,155.3 L89.0,156.7 L89.8,158.1 L90.5,159.4 L91.2,160.7 L92.0,162.0 L92.8,163.3 L93.5,164.5 L94.2,165.7 L95.0,166.9 L95.8,168.1 L96.5,169.2 L97.2,170.3 L98.0,171.4 L98.8,172.4 L99.5,173.5 L100.2,174.5 L101.0,175.5 L101.8,176.4 L102.5,177.3 L103.2,178.3 L104.0,179.2 L104.8,180.0 L105.5,180.9 L106.2,181.7 L107.0,182.5 L107.8,183.3 L108.5,184.1 L109.2,184.8 L110.0,185.5 L110.8,186.3 L111.5,186.9 L112.2,187.6 L113.0,188.3 L113.8,188.9 L114.5,189.6 L115.2,190.2 L116.0,190.8 L116.8,191.3 L117.5,191.9 L118.2,192.5 L119.0,193.0 L119.8,193.5 L120.5,194.0 L121.2,194.5 L122.0,195.0 L122.8,195.5 L123.5,195.9 L124.2,196.4 L125.0,196.8 L125.8,197.2 L126.5,197.6 L127.2,198.0 L128.0,198.4 L128.8,198.8 L129.5,199.2 L130.2,199.5 L131.0,199.9 L131.8,200.2 L132.5,200.6 L133.2,200.9 L134.0,201.2 L134.8,201.5 L135.5,201.8 L136.2,202.1 L137.0,202.4 L137.8,202.6 L138.5,202.9 L139.2,203.2 L140.0,203.4 L140.8,203.7 L141.5,203.9 L142.2,204.1 L143.0,204.4 L143.8,204.6 L144.5,204.8 L145.2,205.0 L146.0,205.2 L146.8,205.4 L147.5,205.6 L148.2,205.8 L149.0,206.0 L149.8,206.2 L150.5,206.3 L151.2,206.5 L152.0,206.7 L152.8,206.8 L153.5,207.0 L154.2,207.1 L155.0,207.3 L155.8,207.4 L156.5,207.6 L157.2,207.7 L158.0,207.8 L158.8,207.9 L159.5,208.1 L160.2,208.2 L161.0,208.3 L161.8,208.4 L162.5,208.5 L163.2,208.6 L164.0,208.8 L164.8,208.9 L165.5,209.0 L166.2,209.1 L167.0,209.2 L167.8,209.2 L168.5,209.3 L169.2,209.4 L170.0,209.5 L170.8,209.6 L171.5,209.7 L172.2,209.8 L173.0,209.8 L173.8,209.9 L174.5,210.0 L175.2,210.1 L176.0,210.1 L176.8,210.2 L177.5,210.3 L178.2,210.3 L179.0,210.4 L179.8,210.4 L180.5,210.5 L181.0,210.5 L183.5,210.7 L186.0,210.9 L188.5,211.1 L191.0,211.2 L193.5,211.3 L196.0,211.5 L198.5,211.6 L201.0,211.7 L203.5,211.8 L206.0,211.9 L208.5,212.0 L211.0,212.0 L213.5,212.1 L216.0,212.2 L218.5,212.2 L221.0,212.3 L223.5,212.4 L226.0,212.4 L228.5,212.5 L231.0,212.5 L233.5,212.6 L236.0,212.6 L238.5,212.6 L241.0,212.7 L243.5,212.7 L246.0,212.7 L248.5,212.8 L251.0,212.8 L253.5,212.8 L256.0,212.9 L258.5,212.9 L261.0,212.9 L263.5,213.0 L266.0,213.0 L268.5,213.0 L271.0,213.0 L273.5,213.1 L276.0,213.1 L278.5,213.1 L281.0,213.1 L283.5,213.2 L286.0,213.2 L288.5,213.2 L291.0,213.2 L293.5,213.2 L296.0,213.3 L298.5,213.3 L301.0,213.3 L303.5,213.3 L306.0,213.3 L308.5,213.4 L311.0,213.4 L313.5,213.4 L316.0,213.4 L318.5,213.4 L321.0,213.4 L323.5,213.5 L326.0,213.5 L328.5,213.5 L331.0,213.5 L333.5,213.5 L336.0,213.5" stroke="#3333ff" stroke-width="1.5" fill="none" stroke-dasharray="2.7 1.3"/>
</g>
<g clip-path="url(#c)">
<path d="M100.70,81.10H125.70M100.70,78.90V83.30M125.70,78.90V83.30M113.20,76.10V86.10M111.00,76.10H115.40M111.00,86.10H115.40" stroke="#000000" stroke-width="1.3" fill="none"/>
<path d="M119.25,145.75H144.25M119.25,143.55V147.95M144.25,143.55V147.95M131.75,140.75V150.75M129.55,140.75H133.95M129.55,150.75H133.95" stroke="#000000" stroke-width="1.3" fill="none"/>
<path d="M138.00,180.90H163.00M138.00,178.70V183.10M163.00,178.70V183.10M150.50,175.90V185.90M148.30,175.90H152.70M148.30,185.90H152.70" stroke="#000000" stroke-width="1.3" fill="none"/>
<path d="M162.30,201.80H187.30M162.30,199.60V204.00M187.30,199.60V204.00M174.80,196.80V206.80M172.60,196.80H177.00M172.60,206.80H177.00" stroke="#000000" stroke-width="1.3" fill="none"/>
<path d="M311.00,213.60H336.00M311.00,211.40V215.80M336.00,211.40V215.80M323.50,208.60V218.60M321.30,208.60H325.70M321.30,218.60H325.70" stroke="#000000" stroke-width="1.3" fill="none"/>
</g>
<polygon points="108.90,84.10 117.50,84.10 113.20,77.20" fill="#000000"/>
<polygon points="127.45,148.75 136.05,148.75 131.75,141.85" fill="#000000"/>
<polygon points="146.20,183.90 154.80,183.90 150.50,177.00" fill="#000000"/>
<polygon points="170.50,204.80 179.10,204.80 174.80,197.90" fill="#000000"/>
<polygon points="319.20,216.60 327.80,216.60 323.50,209.70" fill="#000000"/>
<g clip-path="url(#c)">
<path d="M92.6,-10.3 L96.6,7.4 L97.3,10.7 L98.1,14.1 L98.8,17.4 L99.6,20.8 L100.3,24.2 L101.1,27.6 L101.8,31.0 L102.6,34.5 L103.3,37.9 L104.1,41.3 L104.8,44.7 L105.6,48.1 L106.3,51.4 L107.1,54.8 L107.8,58.1 L108.6,61.4 L109.3,64.7 L110.1,68.0 L110.8,71.2 L111.6,74.4 L112.3,77.6 L113.1,80.7 L113.8,83.8 L114.6,86.9 L115.3,89.9 L116.1,92.9 L116.8,95.8 L117.6,98.7 L118.3,101.5 L119.1,104.3 L119.8,107.1 L120.6,109.8 L121.3,112.4 L122.1,115.0 L122.8,117.6 L123.6,120.1 L124.3,122.6 L125.1,125.0 L125.8,127.4 L126.6,129.7 L127.3,132.0 L128.1,134.2 L128.8,136.3 L129.6,138.5 L130.3,140.6 L131.1,142.6 L131.8,144.6 L132.6,146.5 L133.3,148.4 L134.1,150.2 L134.8,152.1 L135.6,153.8 L136.3,155.5 L137.1,157.2 L137.8,158.8 L138.6,160.4 L139.3,162.0 L140.1,163.5 L140.8,164.9 L141.6,166.3 L142.3,167.7 L143.1,169.1 L143.8,170.4 L144.6,171.7 L145.3,172.9 L146.1,174.1 L146.8,175.3 L147.6,176.4 L148.3,177.5 L149.1,178.6 L149.8,179.7 L150.6,180.7 L151.3,181.7 L152.1,182.6 L152.8,183.6 L153.6,184.5 L154.3,185.3 L155.1,186.2 L155.8,187.0 L156.6,187.8 L157.3,188.6 L158.1,189.3 L158.8,190.0 L159.6,190.8 L160.3,191.4 L161.1,192.1 L161.8,192.7 L162.6,193.4 L163.3,194.0 L164.1,194.6 L164.8,195.1 L165.6,195.7 L166.3,196.2 L167.1,196.7 L167.8,197.2 L168.6,197.7 L169.3,198.2 L170.1,198.6 L170.8,199.1 L171.6,199.5 L172.3,199.9 L173.1,200.3 L173.8,200.7 L174.6,201.1 L175.3,201.4 L176.1,201.8 L176.8,202.1 L177.6,202.4 L178.3,202.8 L179.1,203.1 L179.8,203.4 L180.6,203.7 L181.3,203.9 L182.1,204.2 L182.8,204.5 L183.6,204.7 L184.3,205.0 L185.1,205.2 L185.8,205.4 L186.6,205.7 L187.3,205.9 L188.1,206.1 L188.8,206.3 L189.6,206.5 L190.3,206.7 L191.1,206.9 L191.8,207.1 L192.6,207.2 L193.3,207.4 L194.1,207.6 L194.8,207.7 L195.6,207.9 L196.3,208.0 L197.1,208.2 L197.8,208.3 L198.6,208.4 L199.3,208.6 L200.1,208.7 L200.8,208.8 L201.6,208.9 L202.3,209.0 L203.1,209.2 L203.8,209.3 L204.6,209.4 L205.3,209.5 L206.1,209.6 L206.8,209.7 L207.6,209.8 L208.3,209.8 L209.1,209.9 L209.8,210.0 L210.6,210.1 L211.3,210.2 L212.1,210.3 L212.8,210.3 L213.6,210.4 L214.3,210.5 L215.1,210.5 L215.8,210.6 L216.6,210.7 L217.3,210.7 L218.1,210.8 L218.8,210.9 L219.6,210.9 L220.3,211.0 L221.1,211.0 L221.8,211.1 L222.6,211.1 L223.3,211.2 L224.1,211.2 L224.8,211.3 L225.6,211.3 L226.3,211.4 L227.1,211.4 L227.8,211.5 L228.6,211.5 L229.3,211.5 L230.1,211.6 L230.8,211.6 L231.6,211.7 L232.3,211.7 L233.1,211.7 L233.8,211.8 L234.6,211.8 L235.3,211.8 L236.1,211.9 L236.6,211.9 L239.1,212.0 L241.6,212.1 L244.1,212.1 L246.6,212.2 L249.1,212.3 L251.6,212.4 L254.1,212.4 L256.6,212.5 L259.1,212.5 L261.6,212.6 L264.1,212.6 L266.6,212.7 L269.1,212.7 L271.6,212.7 L274.1,212.8 L276.6,212.8 L279.1,212.8 L281.6,212.9 L284.1,212.9 L286.6,212.9 L289.1,212.9 L291.6,213.0 L294.1,213.0 L296.6,213.0 L299.1,213.0 L301.6,213.0 L304.1,213.1 L306.6,213.1 L309.1,213.1 L311.6,213.1 L314.1,213.1 L316.6,213.2 L319.1,213.2 L321.6,213.2 L324.1,213.2 L326.6,213.2 L329.1,213.2 L331.6,213.2 L334.1,213.3 L336.6,213.3" stroke="#000000" stroke-width="1.6" fill="none"/>
<path d="M85.7,-7.9 L89.7,7.8 L90.5,10.7 L91.2,13.6 L92.0,16.5 L92.7,19.4 L93.5,22.2 L94.2,24.9 L95.0,27.7 L95.7,30.4 L96.5,33.1 L97.2,35.8 L98.0,38.4 L98.7,41.0 L99.5,43.6 L100.2,46.2 L101.0,48.8 L101.7,51.3 L102.5,53.8 L103.2,56.3 L104.0,58.8 L104.7,61.2 L105.5,63.7 L106.2,66.1 L107.0,68.5 L107.7,70.9 L108.5,73.3 L109.2,75.6 L110.0,77.9 L110.7,80.3 L111.5,82.6 L112.2,84.8 L113.0,87.1 L113.7,89.3 L114.5,91.6 L115.2,93.8 L116.0,95.9 L116.7,98.1 L117.5,100.3 L118.2,102.4 L119.0,104.5 L119.7,106.6 L120.5,108.7 L121.2,110.7 L122.0,112.7 L122.7,114.7 L123.5,116.7 L124.2,118.7 L125.0,120.6 L125.7,122.5 L126.5,124.4 L127.2,126.3 L128.0,128.1 L128.7,130.0 L129.4,131.8 L130.2,133.5 L130.9,135.3 L131.7,137.0 L132.4,138.7 L133.2,140.4 L133.9,142.1 L134.7,143.7 L135.4,145.3 L136.2,146.9 L136.9,148.4 L137.7,150.0 L138.4,151.5 L139.2,152.9 L139.9,154.4 L140.7,155.8 L141.4,157.2 L142.2,158.6 L142.9,160.0 L143.7,161.3 L144.4,162.6 L145.2,163.9 L145.9,165.1 L146.7,166.3 L147.4,167.5 L148.2,168.7 L148.9,169.9 L149.7,171.0 L150.4,172.1 L151.2,173.2 L151.9,174.2 L152.7,175.3 L153.4,176.3 L154.2,177.3 L154.9,178.2 L155.7,179.2 L156.4,180.1 L157.2,181.0 L157.9,181.9 L158.7,182.7 L159.4,183.5 L160.2,184.4 L160.9,185.2 L161.7,185.9 L162.4,186.7 L163.2,187.4 L163.9,188.1 L164.7,188.8 L165.4,189.5 L166.2,190.2 L166.9,190.8 L167.7,191.4 L168.4,192.0 L169.2,192.6 L169.9,193.2 L170.7,193.8 L171.4,194.3 L172.2,194.9 L172.9,195.4 L173.7,195.9 L174.4,196.4 L175.2,196.8 L175.9,197.3 L176.7,197.7 L177.4,198.2 L178.2,198.6 L178.9,199.0 L179.7,199.4 L180.4,199.8 L181.2,200.1 L181.9,200.5 L182.7,200.9 L183.4,201.2 L184.2,201.5 L184.9,201.9 L185.7,202.2 L186.4,202.5 L187.2,202.8 L187.9,203.0 L188.7,203.3 L189.4,203.6 L190.2,203.8 L190.9,204.1 L191.7,204.3 L192.4,204.6 L193.2,204.8 L193.9,205.0 L194.7,205.2 L195.4,205.4 L196.2,205.6 L196.9,205.8 L197.7,206.0 L198.4,206.2 L199.2,206.4 L199.9,206.5 L200.7,206.7 L201.4,206.9 L202.2,207.0 L202.9,207.2 L203.7,207.3 L204.4,207.5 L205.2,207.6 L205.9,207.7 L206.7,207.9 L207.4,208.0 L208.2,208.1 L208.9,208.2 L209.7,208.3 L210.4,208.4 L211.2,208.6 L211.9,208.7 L212.7,208.8 L213.4,208.9 L214.2,208.9 L214.9,209.0 L215.7,209.1 L216.4,209.2 L217.2,209.3 L217.9,209.4 L218.7,209.4 L219.4,209.5 L220.2,209.6 L220.9,209.7 L221.7,209.7 L222.4,209.8 L223.2,209.9 L223.9,209.9 L224.7,210.0 L225.4,210.0 L226.2,210.1 L226.9,210.2 L227.7,210.2 L228.4,210.3 L229.2,210.3 L229.7,210.4 L232.2,210.5 L234.7,210.6 L237.2,210.8 L239.7,210.9 L242.2,211.0 L244.7,211.1 L247.2,211.2 L249.7,211.3 L252.2,211.4 L254.7,211.4 L257.2,211.5 L259.7,211.6 L262.2,211.6 L264.7,211.7 L267.2,211.7 L269.7,211.8 L272.2,211.8 L274.7,211.9 L277.2,211.9 L279.7,212.0 L282.2,212.0 L284.7,212.1 L287.2,212.1 L289.7,212.1 L292.2,212.2 L294.7,212.2 L297.2,212.2 L299.7,212.3 L302.2,212.3 L304.7,212.3 L307.2,212.4 L309.7,212.4 L312.2,212.4 L314.7,212.4 L317.2,212.5 L319.7,212.5 L322.2,212.5 L324.7,212.5 L327.2,212.5 L329.7,212.5 L332.2,212.5 L334.7,212.5 L337.2,212.5" stroke="#000000" stroke-width="1.5" fill="none" stroke-dasharray="2.7 1.3"/>
</g>
<path d="M95,93.8H214" stroke="#ff0000" stroke-width="1.9" fill="none"/>
<polygon points="218.6,93.75 210.4,90.7 212.8,93.75 210.4,96.8" fill="#ff0000"/>
<text x="77.4" y="231.6" font-size="14" text-anchor="middle">0.1</text>
<text x="139.3" y="231.6" font-size="14" text-anchor="middle">0.15</text>
<text x="201.2" y="231.6" font-size="14" text-anchor="middle">0.2</text>
<text x="263.1" y="231.6" font-size="14" text-anchor="middle">0.25</text>
<text x="324.9" y="231.6" font-size="14" text-anchor="middle">0.3</text>
<text x="30.4" y="217.6" font-size="14" text-anchor="end">0</text>
<text x="30.4" y="183.0" font-size="14" text-anchor="end">1</text>
<text x="30.4" y="148.5" font-size="14" text-anchor="end">2</text>
<text x="30.4" y="113.9" font-size="14" text-anchor="end">3</text>
<text x="30.4" y="79.4" font-size="14" text-anchor="end">4</text>
<text x="30.4" y="44.8" font-size="14" text-anchor="end">5</text>
<text x="30.4" y="10.3" font-size="14" text-anchor="end">6</text>
<text x="129.3" y="251.4" font-size="14">Δ</text>
<text x="137.3" y="251.4" font-size="14.5" font-style="italic">T</text>
<path d="M151.5,246.8H160.3" stroke="#222" stroke-width="0.85" fill="none"/>
<path d="M151.5,249.6H160.3" stroke="#222" stroke-width="0.85" fill="none"/>
<text x="163.5" y="251.4" font-size="14.5" font-style="italic">T</text>
<text x="170.6" y="253.70000000000002" font-size="10" font-style="italic">c</text>
<text x="173.8" y="246.20000000000002" font-size="10.2">exp</text>
<path d="M191.9,248.4H200.1" stroke="#222" stroke-width="0.85" fill="none"/>
<text x="202.8" y="251.4" font-size="14.5" font-style="italic">T</text>
<text x="226.5" y="252.0" font-size="15">[</text>
<text x="231.4" y="251.4" font-size="13.5">K</text>
<text x="241.0" y="252.0" font-size="15">]</text>
<g transform="translate(13.0,144.5) rotate(-90)">
<text x="-1.9" y="0" font-size="14">Δ</text>
<text x="6.15" y="0" font-size="15" font-style="italic">V</text>
<path d="M9.6,-10.2L12,-12.4L14.4,-10.2" stroke="#222" stroke-width="0.8" fill="none"/>
<text x="19.95" y="0" font-size="14">[</text>
<text x="24.4" y="0" font-size="14.5" font-style="italic">k</text>
<text x="30.45" y="2.1" font-size="10" font-style="italic">B</text>
<text x="36.85" y="0" font-size="14.5" font-style="italic">T</text>
<text x="46.65" y="0" font-size="14">]</text>
</g>
<text x="291.2" y="156.0" font-size="20">(a)</text>
<rect x="235.70" y="16.00" width="7" height="7" fill="#ff0000"/>
<text x="249.7" y="23.1" font-size="14" font-style="italic">L</text>
<path d="M257.9,22.5H264.4" stroke="#222" stroke-width="0.6" fill="none"/>
<path d="M270.0,18.4H279.4" stroke="#222" stroke-width="0.85" fill="none"/>
<path d="M270.0,21.3H279.4" stroke="#222" stroke-width="0.85" fill="none"/>
<text x="283.2" y="23.1" font-size="14">3.25</text>
<text x="311.0" y="23.1" font-size="16" font-style="italic">μ</text>
<text x="320.7" y="23.1" font-size="13.6">m</text>
<circle cx="239.20" cy="36.20" r="3.75" fill="#cc6600"/>
<text x="249.7" y="39.8" font-size="14" font-style="italic">L</text>
<path d="M257.9,39.2H264.4" stroke="#222" stroke-width="0.6" fill="none"/>
<path d="M270.0,35.1H279.4" stroke="#222" stroke-width="0.85" fill="none"/>
<path d="M270.0,38.0H279.4" stroke="#222" stroke-width="0.85" fill="none"/>
<text x="283.2" y="39.8" font-size="14">2.25</text>
<text x="311.0" y="39.8" font-size="16" font-style="italic">μ</text>
<text x="320.7" y="39.8" font-size="13.6">m</text>
<polygon points="234.90,49.90 243.50,49.90 239.20,56.80" fill="#339900"/>
<text x="249.7" y="56.5" font-size="14" font-style="italic">L</text>
<path d="M257.9,55.9H264.4" stroke="#222" stroke-width="0.6" fill="none"/>
<path d="M270.0,51.8H279.4" stroke="#222" stroke-width="0.85" fill="none"/>
<path d="M270.0,54.7H279.4" stroke="#222" stroke-width="0.85" fill="none"/>
<text x="283.2" y="56.5" font-size="14">1.60</text>
<text x="311.0" y="56.5" font-size="16" font-style="italic">μ</text>
<text x="320.7" y="56.5" font-size="13.6">m</text>
<polygon points="239.20,65.20 243.38,68.24 241.79,73.16 236.61,73.16 235.02,68.24" fill="#3333ff"/>
<text x="249.7" y="73.1" font-size="14" font-style="italic">L</text>
<path d="M257.9,72.5H264.4" stroke="#222" stroke-width="0.6" fill="none"/>
<path d="M270.0,68.4H279.4" stroke="#222" stroke-width="0.85" fill="none"/>
<path d="M270.0,71.3H279.4" stroke="#222" stroke-width="0.85" fill="none"/>
<text x="283.2" y="73.1" font-size="14">1.30</text>
<text x="311.0" y="73.1" font-size="16" font-style="italic">μ</text>
<text x="320.7" y="73.1" font-size="13.6">m</text>
<polygon points="234.90,88.80 243.50,88.80 239.20,81.90" fill="#000000"/>
<text x="249.7" y="89.4" font-size="14" font-style="italic">L</text>
<path d="M257.9,88.8H264.4" stroke="#222" stroke-width="0.6" fill="none"/>
<path d="M270.0,84.7H279.4" stroke="#222" stroke-width="0.85" fill="none"/>
<path d="M270.0,87.6H279.4" stroke="#222" stroke-width="0.85" fill="none"/>
<text x="283.2" y="89.4" font-size="14">0.90</text>
<text x="311.0" y="89.4" font-size="16" font-style="italic">μ</text>
<text x="320.7" y="89.4" font-size="13.6">m</text>
</svg></body></html>
